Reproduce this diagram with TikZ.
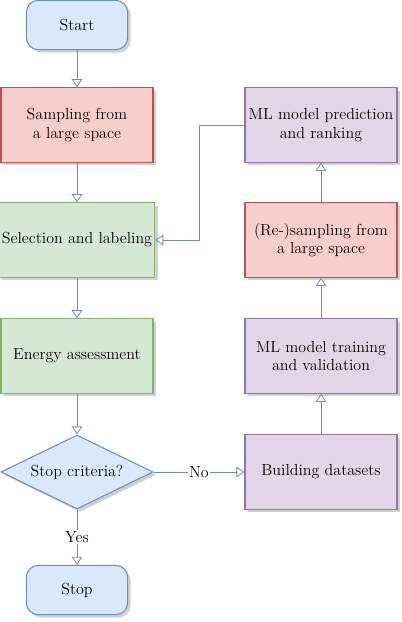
\documentclass[tikz,border=0pt]{standalone}
\usetikzlibrary{arrows.meta,shapes.geometric,shadows}
\definecolor{bluefill}{HTML}{DAE8FC}
\definecolor{blueline}{HTML}{6C8EBF}
\definecolor{redfill}{HTML}{F8CECC}
\definecolor{redline}{HTML}{B85450}
\definecolor{greenfill}{HTML}{D5E8D4}
\definecolor{greenline}{HTML}{82B366}
\definecolor{purplefill}{HTML}{E1D5E7}
\definecolor{purpleline}{HTML}{9673A6}
\tikzset{
  box/.style = {draw, thick, align=center, inner sep=2pt,
                minimum width=114pt, minimum height=56pt,
                drop shadow={shadow xshift=2.2pt, shadow yshift=-2.2pt, fill=black!30, opacity=0.6}},
  terminal/.style = {box, rounded corners=9pt, minimum width=76pt, minimum height=37pt,
                fill=bluefill, draw=blueline},
  redbox/.style = {box, fill=redfill, draw=redline},
  greenbox/.style = {box, fill=greenfill, draw=greenline},
  purplebox/.style = {box, fill=purplefill, draw=purpleline},
  decision/.style = {box, diamond, aspect=2, inner sep=0pt, minimum width=114pt,
                minimum height=55.5pt, fill=bluefill, draw=blueline},
  arr/.style = {draw=blueline, semithick, -{Triangle[open, length=6pt, width=8pt]}},
  lbl/.style = {fill=white, inner sep=1pt}
}
\begin{document}
\begin{tikzpicture}[x=0.75pt, y=-0.75pt, font=\large]
\useasboundingbox (0,0) rectangle (401,622);
%% left column
\node [terminal]  (start)     at (77,25)  {Start};
\node [redbox]    (sampling)  at (77,125) {Sampling from\\a large space};
\node [greenbox]  (selection) at (77,240) {Selection and labeling};
\node [greenbox]  (energy)    at (77,356) {Energy assessment};
\node [decision]  (criteria)  at (77,472) {Stop criteria?};
\node [terminal]  (stop)      at (77,590) {Stop};
%% right column
\node [purplebox] (datasets)   at (321,472) {Building datasets};
\node [purplebox] (training)   at (321,356) {ML model training\\and validation};
\node [redbox]    (resampling) at (321,240) {(Re-)sampling from\\a large space};
\node [purplebox] (prediction) at (321,125) {ML model prediction\\and ranking};
\coordinate (bend) at (199,125);
%% arrows
\draw [arr] (start) -- (sampling);
\draw [arr] (sampling) -- (selection);
\draw [arr] (selection) -- (energy);
\draw [arr] (energy) -- (criteria);
\draw [arr] (criteria) -- node [lbl] {Yes} (stop);
\draw [arr] (criteria) -- node [lbl] {No} (datasets);
\draw [arr] (datasets) -- (training);
\draw [arr] (training) -- (resampling);
\draw [arr] (resampling) -- (prediction);
\draw [arr] (prediction.west) -- (bend) |- (selection.east);
\end{tikzpicture}
\end{document}
